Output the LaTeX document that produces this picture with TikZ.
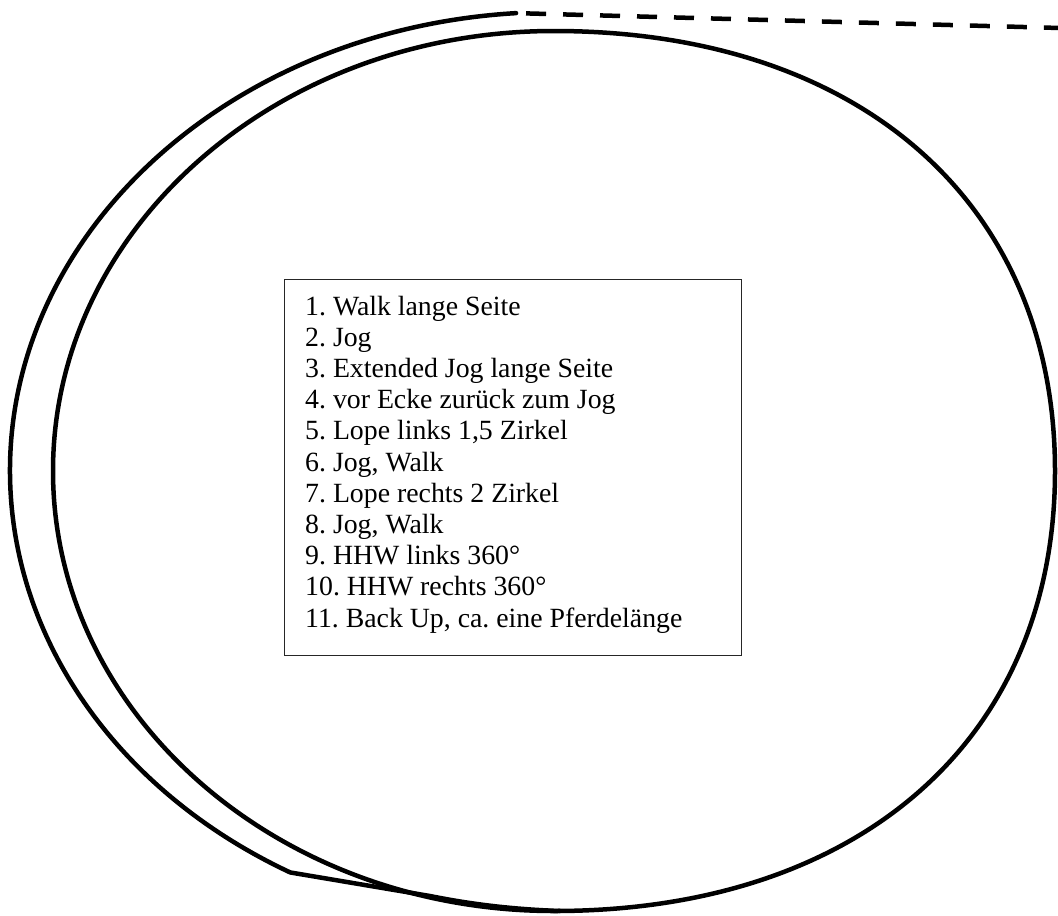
\documentclass[tikz,border=0pt]{standalone}
\usepackage{fontspec}
\setmainfont{Liberation Serif}
\begin{document}
\frenchspacing
\begin{tikzpicture}[x=1pt, y=-1pt,
  track/.style={line width=4.5pt, line cap=round, line join=round},
  exitpath/.style={line width=4.5pt, dash pattern=on 20pt off 17pt, dash phase=27pt},
  listbox/.style={draw=black!85, line width=1.3pt, anchor=north west, inner sep=0pt,
    minimum width=457pt, minimum height=376pt},
  item/.style={anchor=base west, inner sep=0pt, font=\fontsize{27.8}{31.2}\selectfont}]
\useasboundingbox (0,0) rectangle (1058,916);

% arena: inner oval, slightly fuller on the right-hand side
\coordinate (top) at (554,31);
\coordinate (right) at (1055,471);
\coordinate (bottom) at (554,911);
\coordinate (left) at (53,471);
\draw[track] (top)
  .. controls (860,31) and (1055,203) .. (right)
  .. controls (1055,739) and (860,911) .. (bottom)
  .. controls (277,911) and (53,714) .. (left)
  .. controls (53,228) and (277,31) .. (top) -- cycle;

% outer lane around the left side, joining the oval at the bottom
\coordinate (centre) at (554,471);
\path (centre) ++(-94:544 and 459) coordinate (trackend);
\coordinate (exit) at (1060,28);
\draw[track] (trackend)
  arc[start angle=-94, end angle=-241, x radius=544, y radius=459]
  -- (430,896) .. controls (465,903) and (505,909) .. (560,911);

% dashed exit line
\draw[exitpath] (trackend) -- (exit);

% pattern list
\node[listbox] (box) at (284,279) {};
\node[item] (l1)  at (305,315.0) {1. Walk lange Seite};
\node[item] (l2)  at (305,346.2) {2. Jog};
\node[item] (l3)  at (305,377.4) {3. Extended Jog lange Seite};
\node[item] (l4)  at (305,408.6) {4. vor Ecke zurück zum Jog};
\node[item] (l5)  at (305,439.8) {5. Lope links 1,5 Zirkel};
\node[item] (l6)  at (305,471.0) {6. Jog, Walk};
\node[item] (l7)  at (305,502.2) {7. Lope rechts 2 Zirkel};
\node[item] (l8)  at (305,533.4) {8. Jog, Walk};
\node[item] (l9)  at (305,564.6) {9. HHW links 360°};
\node[item] (l10) at (305,595.8) {10. HHW rechts 360°};
\node[item] (l11) at (305,627.0) {11. Back Up, ca. eine Pferdelänge};
\end{tikzpicture}
\end{document}
